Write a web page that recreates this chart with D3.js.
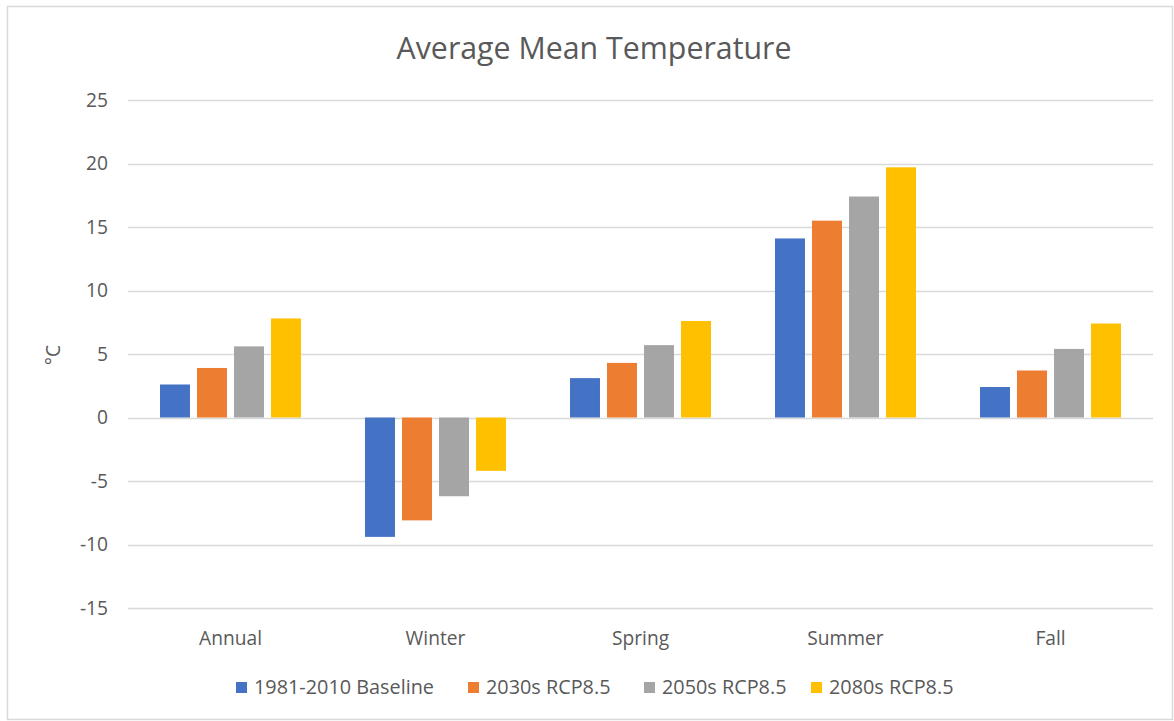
<!DOCTYPE html>
<html>
<head>
<meta charset="utf-8">
<script src="https://cdn.jsdelivr.net/npm/d3@7"></script>
<style>
  html, body { margin: 0; padding: 0; background: #fff; }
  svg { display: block; }
  text { font-family: "Open Sans", "Noto Sans", sans-serif; fill: #595959; }
</style>
</head>
<body>
<svg id="chart" width="1174" height="721"></svg>
<script>
const categories = ["Annual", "Winter", "Spring", "Summer", "Fall"];
const seriesNames = ["1981-2010 Baseline", "2030s RCP8.5", "2050s RCP8.5", "2080s RCP8.5"];
const baseline = [2.6, -9.4, 3.1, 14.1, 2.4];
const rcp2030s = [3.9, -8.1, 4.3, 15.5, 3.7];
const rcp2050s = [5.6, -6.2, 5.7, 17.4, 5.4];
const rcp2080s = [7.8, -4.2, 7.6, 19.7, 7.4];
const yTicks = [-15, -10, -5, 0, 5, 10, 15, 20, 25];
const colors = ["#4472C4", "#ED7D31", "#A5A5A5", "#FFC000"];
const seriesValues = [baseline, rcp2030s, rcp2050s, rcp2080s];

const svg = d3.select("#chart");
const FONT = "'Open Sans', 'Noto Sans', sans-serif";

// fit a font size so that a sample string reaches a target width
function fitSize(sample, target) {
  const t = svg.append("text").style("font-size", "20px").style("font-family", FONT).text(sample);
  const w = t.node().getComputedTextLength();
  t.remove();
  return 20 * target / w;
}
const titleSize = fitSize("Average Mean Temperature", 395);
const labelSize = fitSize("Annual", 63);
const legendSize = fitSize("1981-2010 Baseline", 180);

// chart border
svg.append("rect").attr("x", 7.5).attr("y", 6.5).attr("width", 1165).attr("height", 713)
  .attr("fill", "#fff").attr("stroke", "#d9d9d9").attr("stroke-width", 1.5);

const plot = { left: 128, right: 1153, top: 100, bottom: 608 };

const x = d3.scaleBand().domain(categories).range([plot.left, plot.right]).padding(0);
const xSub = d3.scaleBand().domain(seriesNames).range([32, x.bandwidth() - 32]).paddingInner(0.19);
const y = d3.scaleLinear().domain([-15, 25]).range([plot.bottom, plot.top]);

// gridlines
svg.append("g").selectAll("line").data(yTicks).join("line")
  .attr("x1", plot.left).attr("x2", plot.right)
  .attr("y1", d => Math.round(y(d)) + 0.5).attr("y2", d => Math.round(y(d)) + 0.5)
  .attr("stroke", "#d9d9d9").attr("stroke-width", 1.5);

// y axis labels
const yAxis = d3.axisLeft(y).tickValues(yTicks).tickSize(0).tickPadding(0).tickFormat(d => String(d));
const gy = svg.append("g").attr("transform", `translate(${plot.left - 20},0)`).call(yAxis);
gy.select(".domain").remove();
gy.selectAll("text").style("font-size", labelSize + "px").style("fill", "#595959")
  .style("font-family", FONT);

// bars
const data = [];
categories.forEach((c, i) => {
  seriesNames.forEach((s, j) => data.push({ c, s, v: seriesValues[j][i], j }));
});
svg.append("g").selectAll("rect").data(data).join("rect")
  .attr("x", d => x(d.c) + xSub(d.s))
  .attr("width", xSub.bandwidth())
  .attr("y", d => Math.min(y(d.v), y(0)))
  .attr("height", d => Math.abs(y(d.v) - y(0)))
  .attr("fill", d => colors[d.j]);

// x axis labels
const xAxis = d3.axisBottom(x).tickSize(0).tickPadding(0);
const gx = svg.append("g").attr("transform", `translate(0,${plot.bottom + 22})`).call(xAxis);
gx.select(".domain").remove();
gx.selectAll("text").attr("dy", null).attr("y", 0).attr("dominant-baseline", "alphabetic")
  .attr("transform", "translate(0,15)")
  .style("font-size", labelSize + "px").style("fill", "#595959").style("font-family", FONT);

// title
svg.append("text").attr("x", 594).attr("y", 59).attr("text-anchor", "middle")
  .style("font-size", titleSize + "px").text("Average Mean Temperature");

// y axis title
svg.append("text").attr("transform", "translate(60,355) rotate(-90)").attr("text-anchor", "middle")
  .style("font-size", labelSize + "px").text("°C");

// legend
const legendX = [236, 468, 644, 811];
const lg = svg.append("g").selectAll("g").data(seriesNames).join("g")
  .attr("transform", (d, i) => `translate(${legendX[i]},688)`);
lg.append("rect").attr("x", 0).attr("y", -6).attr("width", 11).attr("height", 11)
  .attr("fill", (d, i) => colors[i]);
lg.append("text").attr("x", 18).attr("y", 6).style("font-size", legendSize + "px").text(d => d);
</script>
</body>
</html>
